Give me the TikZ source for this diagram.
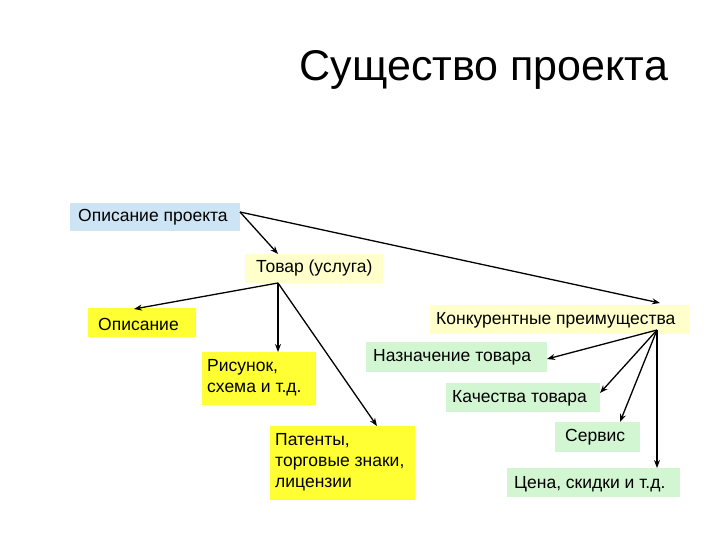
\documentclass[tikz,border=0pt]{standalone}
\usepackage{fontspec}
\setmainfont{Liberation Sans}
\usetikzlibrary{arrows.meta}
\definecolor{lblue}{HTML}{CCE4F4}
\definecolor{lyel}{HTML}{FFFFCC}
\definecolor{yel}{HTML}{FFFF33}
\definecolor{lgreen}{HTML}{D2F5D2}
\begin{document}
\begin{tikzpicture}[x=1pt,y=-1pt,
 box/.style={inner sep=0pt,anchor=west,font=\fontsize{17.5}{21}\selectfont,align=left},
 arr/.style={draw=black,line width=1.3pt,-{Stealth[length=8pt,width=6pt]}}]
\useasboundingbox (0,0) rectangle (720,540);
\node[font=\fontsize{43}{48}\selectfont] (title) at (484,70) {Существо проекта};
\fill[lblue] (70,203) rectangle (240,231);
\node[box] (a) at (78,217) {Описание проекта};
\fill[lyel] (245,254) rectangle (383,283);
\node[box] (b) at (256,268) {Товар (услуга)};
\fill[yel] (88,308) rectangle (196,337);
\node[box] (c) at (98,324) {Описание};
\fill[lyel] (430,305) rectangle (690,334);
\node[box] (d) at (436,320) {Конкурентные преимущества};
\fill[yel] (202,352) rectangle (316,405);
\node[box] (e) at (207,378) {Рисунок,\\схема и т.д.};
\fill[lgreen] (366,342) rectangle (547,372);
\node[box] (f) at (373,357) {Назначение товара};
\fill[lgreen] (446,383) rectangle (600,412);
\node[box] (g) at (452,398) {Качества товара};
\fill[yel] (270,426) rectangle (415,500);
\node[box] (h) at (275,462) {Патенты,\\торговые знаки,\\лицензии};
\fill[lgreen] (555,422) rectangle (640,452);
\node[box] (i) at (565,437) {Сервис};
\fill[lgreen] (507,468) rectangle (680,497);
\node[box] (j) at (514,484) {Цена, скидки и т.д.};
\coordinate (pa) at (240,212);
\coordinate (pb) at (278,283);
\coordinate (pd) at (657,330);
\draw[arr] (pa) -- (278,254);
\draw[arr] (pa) -- (660,303);
\draw[arr] (pb) -- (134,309);
\draw[arr] (pb) -- (278,352);
\draw[arr] (pb) -- (377,426);
\draw[arr] (pd) -- (547,359);
\draw[arr] (pd) -- (600,393);
\draw[arr] (pd) -- (620,422);
\draw[arr] (pd) -- (657,468);
\end{tikzpicture}
\end{document}
